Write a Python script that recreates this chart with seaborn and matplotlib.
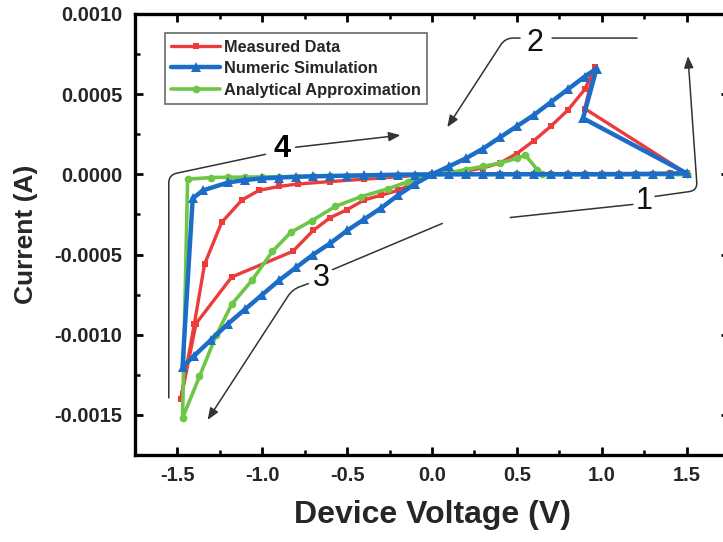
import matplotlib
matplotlib.use("Agg")
import matplotlib.pyplot as plt
import seaborn as sns
from matplotlib.ticker import MultipleLocator, FormatStrFormatter

# Measured data loop (V, A)
meas_v = [0.0, 0.1, 0.2, 0.3, 0.4, 0.5, 0.6, 0.7, 0.8, 0.9, 1.0, 1.1, 1.2, 1.3, 1.4, 1.5,
          0.90, 0.96,
          0.90, 0.80, 0.70, 0.60, 0.50, 0.40, 0.30, 0.20, 0.10, 0.0,
          -0.10, -0.20, -0.30, -0.40, -0.50, -0.60, -0.70, -0.82, -1.18, -1.39, -1.48,
          -1.40, -1.34, -1.24, -1.12, -1.02, -0.90, -0.79, -0.60, -0.40, -0.20, 0.0]
meas_i = [0.0, 0.05e-5, 0.1e-5, 0.15e-5, 0.2e-5, 0.25e-5, 0.3e-5, 0.35e-5, 0.4e-5, 0.42e-5,
          0.45e-5, 0.48e-5, 0.5e-5, 0.52e-5, 0.55e-5, 0.6e-5,
          4.1e-4, 6.7e-4,
          5.3e-4, 4.0e-4, 3.0e-4, 2.1e-4, 1.3e-4, 0.7e-4, 0.4e-4, 0.2e-4, 0.1e-4, 0.0,
          -0.5e-4, -1.0e-4, -1.3e-4, -1.6e-4, -2.2e-4, -2.7e-4, -3.5e-4, -4.8e-4, -6.4e-4,
          -9.3e-4, -14.0e-4,
          -9.3e-4, -5.6e-4, -3.0e-4, -1.6e-4, -1.0e-4, -0.75e-4, -0.6e-4, -0.45e-4, -0.3e-4,
          -0.15e-4, 0.0]

# Numeric simulation loop (V, A)
sim_v = [0.0, 0.1, 0.2, 0.3, 0.4, 0.5, 0.6, 0.7, 0.8, 0.9, 1.0, 1.1, 1.2, 1.3, 1.4, 1.5,
         0.89, 0.97,
         0.90, 0.80, 0.70, 0.60, 0.50, 0.40, 0.30, 0.20, 0.10, 0.0,
         -0.1, -0.2, -0.3, -0.4, -0.5, -0.6, -0.7, -0.8, -0.9, -1.0, -1.1, -1.2, -1.3, -1.4, -1.47,
         -1.41, -1.35, -1.2, -1.1, -1.0, -0.9, -0.8, -0.7, -0.6, -0.5, -0.4, -0.3, -0.2, -0.1, 0.0]
sim_i = [0.0, 0.02e-5, 0.04e-5, 0.05e-5, 0.06e-5, 0.07e-5, 0.08e-5, 0.08e-5, 0.09e-5, 0.1e-5,
         0.1e-5, 0.15e-5, 0.2e-5, 0.3e-5, 0.5e-5, 0.7e-5,
         3.5e-4, 6.6e-4,
         6.1e-4, 5.3e-4, 4.5e-4, 3.7e-4, 3.0e-4, 2.3e-4, 1.6e-4, 1.0e-4, 0.5e-4, 0.0,
         -0.6e-4, -1.3e-4, -2.1e-4, -2.8e-4, -3.5e-4, -4.3e-4, -5.0e-4, -5.8e-4, -6.6e-4,
         -7.5e-4, -8.4e-4, -9.3e-4, -10.3e-4, -11.3e-4, -12.0e-4,
         -1.5e-4, -1.0e-4, -0.5e-4, -0.35e-4, -0.25e-4, -0.2e-4, -0.15e-4, -0.12e-4, -0.1e-4,
         -0.08e-4, -0.06e-4, -0.04e-4, -0.02e-4, -0.01e-4, 0.0]

# Analytical approximation loop (V, A)
ana_v = [1.5, 1.4, 1.3, 1.2, 1.1, 1.0, 0.9, 0.8, 0.7, 0.6, 0.5, 0.4, 0.3, 0.2, 0.1, 0.0,
         -0.14, -0.26, -0.42, -0.57, -0.71, -0.83, -0.94, -1.06, -1.18, -1.27, -1.37, -1.47,
         -1.44, -1.3, -1.2, -1.1, -1.0, -0.9, -0.8, -0.7, -0.6, -0.5, -0.4, -0.3, -0.2, -0.1, 0.0,
         0.1, 0.2, 0.3, 0.4, 0.5, 0.55, 0.62, 0.65, 0.8, 1.0, 1.2, 1.4, 1.5]
ana_i = [0.0, -0.02e-5, -0.03e-5, -0.04e-5, -0.04e-5, -0.04e-5, -0.03e-5, -0.03e-5, -0.02e-5,
         -0.02e-5, -0.01e-5, -0.01e-5, 0.0, 0.0, 0.0, 0.0,
         -0.45e-4, -0.9e-4, -1.4e-4, -2.0e-4, -2.9e-4, -3.6e-4, -4.8e-4, -6.6e-4, -8.1e-4,
         -10.0e-4, -12.6e-4, -15.2e-4,
         -0.3e-4, -0.2e-4, -0.18e-4, -0.17e-4, -0.16e-4, -0.15e-4, -0.14e-4, -0.13e-4,
         -0.12e-4, -0.11e-4, -0.1e-4, -0.08e-4, -0.06e-4, -0.04e-4, 0.0,
         0.1e-4, 0.3e-4, 0.5e-4, 0.7e-4, 1.0e-4, 1.2e-4, 0.3e-4, 0.0, -0.03e-5, -0.04e-5,
         -0.05e-5, -0.05e-5, -0.05e-5]

series_names = ["Measured Data", "Numeric Simulation", "Analytical Approximation"]
x_ticks = [-1.5, -1.0, -0.5, 0.0, 0.5, 1.0, 1.5]
y_ticks = [-0.0015, -0.0010, -0.0005, 0.0, 0.0005, 0.0010]

RED = "#EC3B3B"
BLUE = "#1C6DC8"
GREEN = "#6EC647"
ANN = "#333333"

sns.set_style("ticks")
plt.rcParams["font.family"] = ["Liberation Sans", "DejaVu Sans"]
plt.rcParams["font.weight"] = "bold"

fig = plt.figure(figsize=(7.23, 5.42), dpi=100)
ax = fig.add_axes([135 / 723, 1 - 455 / 542, 594 / 723, 441 / 542])

sns.lineplot(x=meas_v, y=meas_i, sort=False, estimator=None, ax=ax, color=RED,
             linewidth=2.4, marker="s", markersize=5, markeredgewidth=0,
             label=series_names[0])
sns.lineplot(x=ana_v, y=ana_i, sort=False, estimator=None, ax=ax, color=GREEN,
             linewidth=2.6, marker="o", markersize=5.5, markeredgewidth=0,
             label=series_names[2])
sns.lineplot(x=sim_v, y=sim_i, sort=False, estimator=None, ax=ax, color=BLUE,
             linewidth=3.2, marker="^", markersize=7, markeredgewidth=0,
             label=series_names[1])

ax.set_xlim(-1.75, 1.75)
ax.set_ylim(-0.00175, 0.0010)
ax.set_xticks(x_ticks)
ax.set_yticks(y_ticks)
ax.xaxis.set_minor_locator(MultipleLocator(0.25))
ax.yaxis.set_minor_locator(MultipleLocator(0.00025))
ax.xaxis.set_major_formatter(FormatStrFormatter("%.1f"))
ax.yaxis.set_major_formatter(FormatStrFormatter("%.4f"))
ax.tick_params(which="both", direction="in", top=True, right=True, color="black")
ax.tick_params(which="major", length=6, width=2.0, labelsize=14.5)
ax.tick_params(which="minor", length=3.5, width=1.8)
ax.tick_params(axis="x", pad=8)
ax.tick_params(axis="y", pad=9)
for lab in ax.get_xticklabels() + ax.get_yticklabels():
    lab.set_fontweight("bold")
for sp in ax.spines.values():
    sp.set_linewidth(2.4)
    sp.set_color("black")

ax.set_xlabel("Device Voltage (V)", fontsize=23, fontweight="bold", labelpad=11)
ax.set_ylabel("Current (A)", fontsize=19, fontweight="bold", labelpad=12)

handles, labels = ax.get_legend_handles_labels()
order = [labels.index(n) for n in series_names]
leg = ax.legend([handles[i] for i in order], [labels[i] for i in order],
                loc="upper left", bbox_to_anchor=(0.05, 0.957), borderaxespad=0,
                fancybox=False, frameon=True, handlelength=3.0, handletextpad=0.2,
                labelspacing=0.4, borderpad=0.4, prop={"size": 11.8, "weight": "bold"})
leg.get_frame().set_edgecolor("#444444")
leg.get_frame().set_linewidth(1.2)

# sweep direction annotations
line_kw = dict(arrowstyle="-", color=ANN, lw=1.1, shrinkA=0, shrinkB=0)
head_kw = dict(arrowstyle="-|>,head_length=0.7,head_width=0.28", color=ANN, lw=1.1,
               shrinkA=0, shrinkB=0)
num_kw = dict(ha="center", va="center", fontsize=22, color="#111111", fontweight="normal")

# 4
ax.annotate("", xy=(-0.981, 0.125e-3), xytext=(-1.551, -1.394e-3),
            arrowprops=dict(line_kw, connectionstyle="angle,angleA=90,angleB=12,rad=8"))
ax.annotate("", xy=(-0.186, 0.244e-3), xytext=(-0.804, 0.169e-3), arrowprops=head_kw)
ax.text(-0.886, 0.156e-3, "4", **dict(num_kw, fontweight="bold", color="black"))

# 1
ax.annotate("", xy=(1.184, -0.1875e-3), xytext=(0.461, -0.269e-3), arrowprops=line_kw)
ax.annotate("", xy=(1.508, 0.7375e-3), xytext=(1.314, -0.1375e-3),
            arrowprops=dict(head_kw, connectionstyle="angle,angleA=8,angleB=94,rad=8"))
ax.text(1.249, -0.169e-3, "1", **num_kw)

# 2
ax.annotate("", xy=(0.708, 0.85e-3), xytext=(1.208, 0.85e-3), arrowprops=line_kw)
ax.annotate("", xy=(0.090, 0.294e-3), xytext=(0.519, 0.85e-3),
            arrowprops=dict(head_kw, connectionstyle="angle,angleA=180,angleB=57,rad=8"))
ax.text(0.608, 0.819e-3, "2", **num_kw)

# 3
ax.annotate("", xy=(-0.586, -0.594e-3), xytext=(0.061, -0.306e-3), arrowprops=line_kw)
ax.annotate("", xy=(-1.322, -1.531e-3), xytext=(-0.728, -0.681e-3),
            arrowprops=dict(head_kw, connectionstyle="angle,angleA=20,angleB=57,rad=8"))
ax.text(-0.651, -0.644e-3, "3", **num_kw)

fig.savefig("out.png", dpi=100)
